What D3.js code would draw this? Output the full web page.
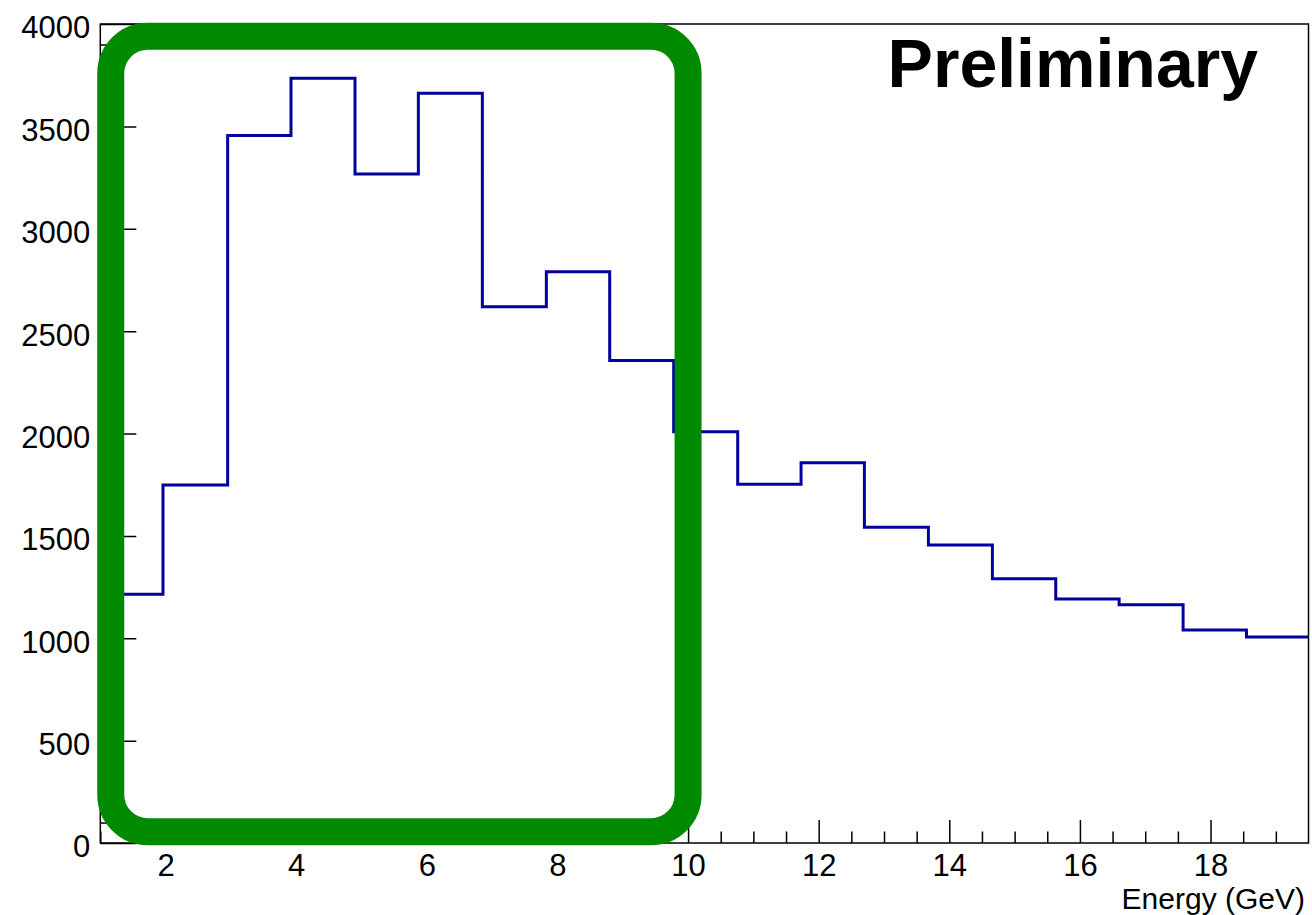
<!DOCTYPE html>
<html>
<head>
<meta charset="utf-8">
<script src="https://cdn.jsdelivr.net/npm/d3@7"></script>
<style>
  body { margin: 0; background: #fff; }
  svg { display: block; font-family: "Liberation Sans", Arial, Helvetica, sans-serif; }
</style>
</head>
<body>
<svg id="chart" width="1312" height="915"></svg>
<script>
// bin edges (GeV) and counts
let binEdges = [0.98, 1.96, 2.95, 3.92, 4.90, 5.87, 6.85, 7.83, 8.80, 9.78,
    10.76, 11.73, 12.70, 13.68, 14.66, 15.63, 16.60, 17.58, 18.55, 19.5];
let counts = [1215, 1748, 3456, 3735, 3267, 3662, 2619, 2790, 2357, 2009,
    1752, 1857, 1542, 1455, 1291, 1192, 1164, 1040, 1006];

let xTickValues = [2, 4, 6, 8, 10, 12, 14, 16, 18];
let yTickValues = [0, 500, 1000, 1500, 2000, 2500, 3000, 3500, 4000];

// highlighted region, in data units
let highlightX = [1.16, 10.0];
let highlightY = [55, 3940];

let xTitle = "Energy (GeV)";
let stamp = "Preliminary";

function drawHistogram(svgId) {
    let svg = d3.select(svgId);

    let left = 100.3, right = 1308.5, top = 24, bottom = 843;

    let x = d3.scaleLinear()
        .domain([1, 19.5])
        .range([left, right]);

    let y = d3.scaleLinear()
        .domain([0, 4000])
        .range([bottom, top]);

    // clip so first bin starts at the frame
    svg.append("defs").append("clipPath")
        .attr("id", "plotClip")
        .append("rect")
        .attr("x", left)
        .attr("y", top)
        .attr("width", right - left)
        .attr("height", bottom - top);

    // minor ticks
    let xMinor = d3.range(2, 39).map(d => d / 2).filter(d => d % 2 != 0);
    svg.append("g")
        .attr("transform", "translate(0," + bottom + ")")
        .call(d3.axisBottom(x).tickValues(xMinor).tickSize(-11.5).tickFormat(""))
        .call(g => g.select(".domain").remove())
        .selectAll("line").attr("stroke", "#000").attr("stroke-width", 1.5);

    let yMinor = d3.range(0, 4001, 100).filter(d => d % 500 != 0);
    svg.append("g")
        .attr("transform", "translate(" + left + ",0)")
        .call(d3.axisLeft(y).tickValues(yMinor).tickSize(-18).tickFormat(""))
        .call(g => g.select(".domain").remove())
        .selectAll("line").attr("stroke", "#000").attr("stroke-width", 1.5);

    // major ticks + labels
    let xAxis = svg.append("g")
        .attr("transform", "translate(0," + bottom + ")")
        .call(d3.axisBottom(x).tickValues(xTickValues).tickSize(-23).tickPadding(11).tickFormat(d3.format("d")));
    xAxis.select(".domain").remove();
    xAxis.selectAll("line").attr("stroke", "#000").attr("stroke-width", 1.5);
    xAxis.selectAll("text")
        .style("font-size", "31px")
        .style("font-family", "Liberation Sans, Arial, sans-serif")
        .attr("fill", "#000");

    let yAxis = svg.append("g")
        .attr("transform", "translate(" + left + ",0)")
        .call(d3.axisLeft(y).tickValues(yTickValues).tickSize(-36).tickPadding(10).tickFormat(d3.format("d")));
    yAxis.select(".domain").remove();
    yAxis.selectAll("line").attr("stroke", "#000").attr("stroke-width", 1.5);
    yAxis.selectAll("text")
        .attr("dy", "0.45em")
        .style("font-size", "31px")
        .style("font-family", "Liberation Sans, Arial, sans-serif")
        .attr("fill", "#000");

    // histogram outline
    let pts = counts.map((c, i) => [binEdges[i], c]);
    pts.push([binEdges[binEdges.length - 1], counts[counts.length - 1]]);

    let step = d3.line()
        .x(d => x(d[0]))
        .y(d => y(d[1]))
        .curve(d3.curveStepAfter);

    svg.append("path")
        .datum(pts)
        .attr("clip-path", "url(#plotClip)")
        .attr("d", step)
        .style("fill", "none")
        .style("stroke", "#00009f")
        .style("stroke-width", 3);

    // frame
    svg.append("rect")
        .attr("x", left)
        .attr("y", top)
        .attr("width", right - left)
        .attr("height", bottom - top)
        .style("fill", "none")
        .style("stroke", "#000")
        .style("stroke-width", 1.5);

    // axis title
    svg.append("text")
        .attr("x", 1305)
        .attr("y", 909)
        .attr("text-anchor", "end")
        .style("font-size", "30px")
        .text(xTitle);

    // stamp
    svg.append("text")
        .attr("x", 1258)
        .attr("y", 87)
        .attr("text-anchor", "end")
        .style("font-size", "68px")
        .style("font-weight", "bold")
        .text(stamp);

    // green highlight box
    svg.append("rect")
        .attr("x", x(highlightX[0]))
        .attr("y", y(highlightY[1]))
        .attr("width", x(highlightX[1]) - x(highlightX[0]))
        .attr("height", y(highlightY[0]) - y(highlightY[1]))
        .attr("rx", 37)
        .attr("ry", 37)
        .style("fill", "none")
        .style("stroke", "#008a00")
        .style("stroke-width", 27);
}

drawHistogram("#chart");
</script>
</body>
</html>
